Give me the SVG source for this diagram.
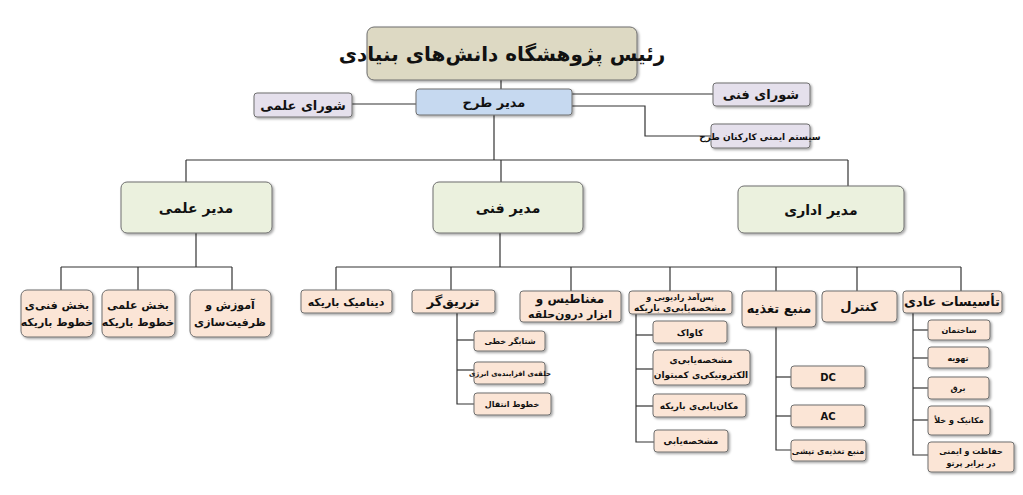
<svg xmlns="http://www.w3.org/2000/svg" width="1023" height="495" viewBox="0 0 1023 495">
<defs>
<filter id="sh" x="-10%" y="-10%" width="130%" height="150%"><feDropShadow dx="1.5" dy="1.5" stdDeviation="1" flood-color="#000" flood-opacity="0.35"/></filter>
</defs>
<style>
rect{stroke:#6f6f6f;stroke-width:1;filter:url(#sh)}
.top{fill:#ddd9c3}.blue{fill:#c6d9f0}.lav{fill:#e5e0ec}.grn{fill:#ebf1de}.pch{fill:#fbe5d6}
text{font-family:"DejaVu Sans",sans-serif;font-weight:bold;fill:#111;text-anchor:middle;direction:rtl}
.c line,.c polyline{stroke:#333;stroke-width:1.2;fill:none}
</style>
<rect width="1023" height="495" fill="#fff" style="stroke:none;filter:none"/>
<g class="c" id="connectors">
<line x1="501" y1="80" x2="501" y2="89"/>
<line x1="494" y1="115" x2="494" y2="160"/>
<line x1="352" y1="104" x2="416" y2="104"/>
<line x1="572" y1="94" x2="713" y2="94"/>
<polyline points="572,106 645,106 645,136 711,136"/>
<line x1="186" y1="160" x2="848" y2="160"/>
<line x1="186" y1="160" x2="186" y2="182"/>
<line x1="501" y1="160" x2="501" y2="182"/>
<line x1="848" y1="160" x2="848" y2="186"/>
<line x1="196" y1="233" x2="196" y2="267"/>
<line x1="61" y1="267" x2="232" y2="267"/>
<line x1="61" y1="267" x2="61" y2="290"/>
<line x1="138" y1="267" x2="138" y2="290"/>
<line x1="232" y1="267" x2="232" y2="290"/>
<line x1="500" y1="233" x2="500" y2="267"/>
<line x1="336" y1="267" x2="961" y2="267"/>
<line x1="336" y1="267" x2="336" y2="290"/>
<line x1="451" y1="267" x2="451" y2="290"/>
<line x1="571" y1="267" x2="571" y2="291"/>
<line x1="670" y1="267" x2="670" y2="291"/>
<line x1="776" y1="267" x2="776" y2="291"/>
<line x1="857" y1="267" x2="857" y2="291"/>
<line x1="961" y1="267" x2="961" y2="291"/>
<polyline points="457,313 457,404 474,404"/>
<line x1="457" y1="340" x2="474" y2="340"/>
<line x1="457" y1="370" x2="474" y2="370"/>
<polyline points="636,314 636,442 654,442"/>
<line x1="636" y1="335" x2="653" y2="335"/>
<line x1="636" y1="369" x2="653" y2="369"/>
<line x1="636" y1="406" x2="653" y2="406"/>
<polyline points="776,327 776,450 791,450"/>
<line x1="776" y1="377" x2="791" y2="377"/>
<line x1="776" y1="416" x2="791" y2="416"/>
<polyline points="913,313 913,455 928,455"/>
<line x1="913" y1="330" x2="928" y2="330"/>
<line x1="913" y1="358" x2="928" y2="358"/>
<line x1="913" y1="388" x2="928" y2="388"/>
<line x1="913" y1="420" x2="928" y2="420"/>
</g>
<g id="head"><rect class="top" x="367" y="27" width="270" height="53" rx="7"/><text x="502" y="61" font-size="20">رئیس پژوهشگاه دانش‌های بنیادی</text></g>
<g id="pm"><rect class="blue" x="416" y="89" width="156" height="26" rx="3"/><text x="494" y="107" font-size="13">مدیر طرح</text></g>
<g id="sci-council"><rect class="lav" x="254" y="93" width="98" height="24" rx="3"/><text x="303" y="110" font-size="13">شورای علمی</text></g>
<g id="tech-council"><rect class="lav" x="713" y="83" width="97" height="23" rx="3"/><text x="761" y="99" font-size="13">شورای فنی</text></g>
<g id="safety"><rect class="lav" x="711" y="124" width="99" height="24" rx="3"/><text x="760" y="140" font-size="9">سیستم ایمنی کارکنان طرح</text></g>
<g id="sci-mgr"><rect class="grn" x="121" y="182" width="151" height="51" rx="6"/><text x="196" y="213" font-size="14">مدیر علمی</text></g>
<g id="tech-mgr"><rect class="grn" x="433" y="182" width="150" height="51" rx="6"/><text x="508" y="213" font-size="14">مدیر فنی</text></g>
<g id="adm-mgr"><rect class="grn" x="738" y="186" width="166" height="47" rx="6"/><text x="821" y="215" font-size="14">مدیر اداری</text></g>
<g id="n1"><rect class="pch" x="21" y="290" width="72" height="47" rx="6"/><text x="57" y="309" font-size="11">بخش فنی‌ی</text><text x="57" y="326" font-size="11">خطوط باریکه</text></g>
<g id="n2"><rect class="pch" x="102" y="290" width="73" height="47" rx="6"/><text x="138" y="309" font-size="11">بخش علمی</text><text x="138" y="326" font-size="11">خطوط باریکه</text></g>
<g id="n3"><rect class="pch" x="190" y="290" width="81" height="47" rx="6"/><text x="230" y="309" font-size="11">آموزش و</text><text x="230" y="326" font-size="11">ظرفیت‌سازی</text></g>
<g id="n4"><rect class="pch" x="301" y="290" width="91" height="23" rx="3"/><text x="346" y="306" font-size="11">دینامیک باریکه</text></g>
<g id="n5"><rect class="pch" x="412" y="290" width="83" height="23" rx="3"/><text x="453" y="306" font-size="13">تزریق‌گر</text></g>
<g id="n6"><rect class="pch" x="520" y="291" width="101" height="31" rx="3"/><text x="570" y="303" font-size="12">مغناطیس و</text><text x="570" y="318" font-size="11">ابزار درون‌حلقه</text></g>
<g id="n7"><rect class="pch" x="629" y="291" width="103" height="23" rx="3"/><text x="680" y="300" font-size="8">پس‌آمد رادیویی و</text><text x="680" y="311" font-size="9">مشخصه‌یابی‌ی باریکه</text></g>
<g id="n8"><rect class="pch" x="742" y="291" width="74" height="36" rx="4"/><text x="779" y="313" font-size="13">منبع تغذیه</text></g>
<g id="n9"><rect class="pch" x="822" y="291" width="75" height="31" rx="4"/><text x="859" y="311" font-size="13">کنترل</text></g>
<g id="n10"><rect class="pch" x="903" y="291" width="99" height="22" rx="3"/><text x="952" y="306" font-size="13">تأسیسات عادی</text></g>
<g id="i1"><rect class="pch" x="474" y="331" width="71" height="20" rx="3"/><text x="510" y="344" font-size="8">شتابگر خطی</text></g>
<g id="i2"><rect class="pch" x="474" y="362" width="71" height="22" rx="3"/><text x="510" y="376" font-size="7">حلقه‌ی افزاینده‌ی انرژی</text></g>
<g id="i3"><rect class="pch" x="474" y="393" width="77" height="22" rx="3"/><text x="512" y="407" font-size="8">خطوط انتقال</text></g>
<g id="d1"><rect class="pch" x="653" y="321" width="74" height="22" rx="3"/><text x="690" y="336" font-size="9">کاواک</text></g>
<g id="d2"><rect class="pch" x="653" y="350" width="97" height="35" rx="4"/><text x="701" y="363" font-size="9">مشخصه‌یابی‌ی</text><text x="701" y="378" font-size="9">الکترونیکی‌ی کمیتوان</text></g>
<g id="d3"><rect class="pch" x="653" y="394" width="93" height="23" rx="3"/><text x="699" y="409" font-size="9">مکان‌یابی‌ی باریکه</text></g>
<g id="d4"><rect class="pch" x="654" y="430" width="74" height="22" rx="3"/><text x="691" y="444" font-size="9">مشخصه‌یابی</text></g>
<g id="p1"><rect class="pch" x="791" y="366" width="74" height="22" rx="3"/><text x="828" y="381" font-size="10">DC</text></g>
<g id="p2"><rect class="pch" x="791" y="405" width="74" height="22" rx="3"/><text x="828" y="420" font-size="10">AC</text></g>
<g id="p3"><rect class="pch" x="791" y="440" width="75" height="21" rx="3"/><text x="828" y="454" font-size="8">منبع تغذیه‌ی تپشی</text></g>
<g id="f1"><rect class="pch" x="928" y="320" width="62" height="20" rx="3"/><text x="959" y="333" font-size="8">ساختمان</text></g>
<g id="f2"><rect class="pch" x="928" y="347" width="61" height="21" rx="3"/><text x="958" y="361" font-size="8">تهویه</text></g>
<g id="f3"><rect class="pch" x="928" y="377" width="61" height="22" rx="3"/><text x="958" y="391" font-size="8">برق</text></g>
<g id="f4"><rect class="pch" x="928" y="406" width="62" height="29" rx="3"/><text x="959" y="423" font-size="8">مکانیک و خلأ</text></g>
<g id="f5"><rect class="pch" x="928" y="442" width="86" height="30" rx="3"/><text x="971" y="454" font-size="8">حفاظت و ایمنی</text><text x="971" y="466" font-size="8">در برابر پرتو</text></g>
</svg>
